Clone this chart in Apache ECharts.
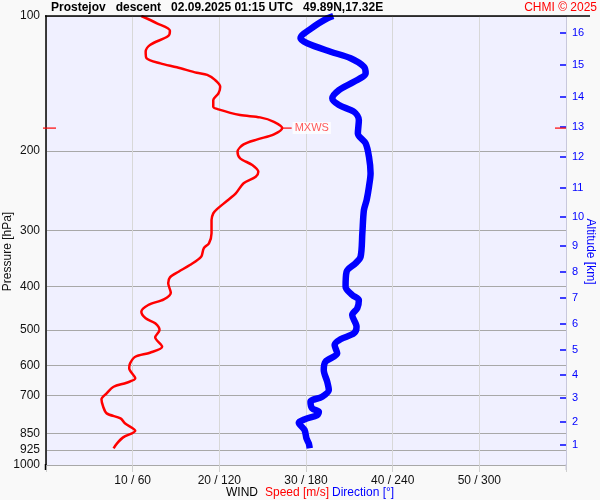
<!DOCTYPE html>
<html>
<head>
<meta charset="utf-8">
<script src="https://cdn.jsdelivr.net/npm/echarts@6/dist/echarts.min.js"></script>
<style>
html,body{margin:0;padding:0;background:#f9f9f9;}
#chart{width:600px;height:500px;}
</style>
</head>
<body>
<div id="chart"></div>
<script>
// ---- data ----
const pressureTicks = [100, 200, 300, 400, 500, 600, 700, 850, 925, 1000];
const altitudeKm = [1, 2, 3, 4, 5, 6, 7, 8, 9, 10, 11, 12, 13, 14, 15, 16];
const altitudePressure = [903, 802, 709, 630, 554, 485, 425, 372, 325, 280, 241.6, 206, 176.7, 151.5, 128.6, 109.1];
const speedTicks = [10, 20, 30, 40, 50];
const dirTicks = [60, 120, 180, 240, 300];

const speedPressure = [100,103.8,107.8,110.8,116.0,120.1,124.2,127.5,130.1,133.8,
  135.3,138.8,143.7,148.7,153.9,159.2,161.4,166.2,168.2,172.0,
  177.7,183.5,188.3,193.2,200.6,207.5,214.7,222.2,228.0,235.8,
  248.3,257.9,269.5,275.1,284.7,304.8,320.8,329.1,343.6,358.6,
  371.1,381.9,393.9,413.3,427.6,440.2,455.6,471.3,483.5,500.4,
  519.5,545.2,562.3,574.0,593.7,609.1,641.2,655.8,669.4,692.5,
  714.2,741.7,767.3,787.2,807.6,838.9,867.8,894.9,918.1];
const speed = [11.0,12.8,14.3,14.1,12.0,11.5,11.6,13.2,15.1,17.4,
  18.6,19.5,20.1,19.9,19.3,19.3,19.9,22.4,24.7,26.3,
  27.25,26.3,24.4,22.8,22.1,22.4,23.8,24.5,24.2,22.8,
  21.9,20.9,19.7,19.3,19.1,19.1,18.8,18.2,17.9,16.6,
  15.3,14.3,14.1,14.4,13.6,11.8,11.0,11.5,12.6,13.1,
  12.6,13.4,12.0,10.3,9.7,9.6,10.3,9.3,7.8,7.0,
  6.4,6.6,7.0,8.6,9.1,10.3,8.9,8.2,7.8];

const dirPressure = [100,101.2,105.6,112.1,115.0,120.1,124.2,129.7,134.2,140.1,
  146.2,152.5,157.9,163.4,170.5,182.6,192.2,205.8,224.0,240.0,
  256.9,270.5,304.8,343.6,355.4,371.1,400.9,418.2,429.1,447.7,
  463.4,492.0,509.0,524.9,540.5,564.0,588.9,614.4,652.5,680.7,
  704.5,722.8,747.8,761.0,774.0,790.0,805.1,835.9,872.2,894.9,
  918.1];
const direction = [198.9,194.7,185.4,176.2,180.8,197.0,210.9,220.1,221.3,213.2,
  202.8,198.2,202.8,213.2,216.6,215.9,221.3,223.6,224.7,223.6,
  222.0,220.1,219.0,217.8,214.3,208.1,207.4,212.0,216.6,215.5,
  212.0,215.0,213.2,203.9,199.8,201.6,193.5,192.3,194.7,195.8,
  191.2,183.1,184.3,188.9,187.8,179.7,175.0,179.0,180.3,181.9,
  182.6];

// ---- build ----
const speedData = speed.map((s, i) => [s, speedPressure[i]]);
const dirData = direction.map((d, i) => [d, dirPressure[i]]);
let mi = 0;
speed.forEach((s, i) => { if (s > speed[mi]) mi = i; });
const maxPoint = [speed[mi], speedPressure[mi]];

const FONT = '"Liberation Sans", Arial, sans-serif';
const chart = echarts.init(document.getElementById('chart'), null, {renderer: 'canvas'});
chart.setOption({
  backgroundColor: '#f9f9f9',
  animation: false,
  textStyle: {fontFamily: FONT},
  grid: {left: 46, right: 34, top: 16, bottom: 35, show: true, backgroundColor: '#f0f0ff', borderWidth: 0,
    containLabel: false, outerBoundsMode: 'none'},
  xAxis: [{
    type: 'value', min: 0, max: 60, interval: 10,
    axisLine: {show: false, onZero: false},
    axisTick: {show: true, length: 7, lineStyle: {color: '#cfcfcf'}},
    splitLine: {show: true, lineStyle: {color: '#d8d8d8', width: 1}},
    axisLabel: {
      margin: 10, color: '#111', fontSize: 12, fontFamily: FONT,
      formatter: v => { const i = speedTicks.indexOf(v); return i < 0 ? '' : speedTicks[i] + ' / ' + dirTicks[i]; }
    }
  }, {
    type: 'value', min: 0, max: 360, show: false
  }],
  yAxis: [{
    type: 'log', logBase: 10, min: 100, max: 1000, inverse: true, position: 'left',
    name: 'Pressure [hPa]', nameLocation: 'middle', nameGap: 32, nameMoveOverlap: false,
    nameTextStyle: {color: '#111', fontSize: 12, fontFamily: FONT, padding: [0, 22, 0, 0]},
    axisLine: {show: true, onZero: false, lineStyle: {color: '#000', width: 1.5}},
    axisTick: {show: false, customValues: pressureTicks},
    axisLabel: {customValues: pressureTicks, margin: 6, color: '#111', fontSize: 12, fontFamily: FONT,
      formatter: v => String(Math.round(v))},
    splitLine: {show: true, lineStyle: {color: '#a8a8a8', width: 1}}
  }, {
    type: 'log', logBase: 10, min: 100, max: 1000, inverse: true, position: 'right',
    name: 'Altitude [km]', nameLocation: 'middle', nameGap: 18, nameRotate: -90, nameMoveOverlap: false,
    nameTextStyle: {color: '#0000ff', fontSize: 12, fontFamily: FONT, padding: [0, 0, 0, 22]},
    axisLine: {show: true, onZero: false, lineStyle: {color: '#c8c8dc', width: 1}},
    axisTick: {show: true, inside: true, length: 6, customValues: altitudePressure, lineStyle: {color: '#0000ff', width: 1.5}},
    axisLabel: {customValues: altitudePressure, margin: 6, color: '#0000ff', fontSize: 11, fontFamily: FONT,
      formatter: v => { const i = altitudePressure.findIndex(p => Math.abs(p - v) < 0.5); return i < 0 ? '' : String(altitudeKm[i]); }},
    splitLine: {show: false}
  }],
  series: [{
    type: 'line', name: 'Speed', xAxisIndex: 0, yAxisIndex: 0, data: speedData,
    smooth: 0.3, showSymbol: false, clip: true,
    lineStyle: {color: '#ff0000', width: 2.5}, z: 3
  }, {
    type: 'line', name: 'Direction', xAxisIndex: 1, yAxisIndex: 0, data: dirData,
    smooth: 0.3, showSymbol: false, clip: true,
    lineStyle: {color: '#0000ff', width: 6.5}, z: 2
  }, {
    type: 'scatter', xAxisIndex: 0, yAxisIndex: 0, data: [maxPoint],
    symbol: 'rect', symbolSize: [9, 1.5], symbolOffset: [5, 0], z: 4,
    itemStyle: {color: '#ff0000'},
    label: {show: true, position: 'right', distance: 1, formatter: 'MXWS', color: '#ff3030',
      fontSize: 11, fontFamily: FONT, backgroundColor: '#ffffff', padding: [1, 2, 0, 2]}
  }, {
    type: 'scatter', xAxisIndex: 0, yAxisIndex: 0,
    data: [[0, maxPoint[1]]], symbol: 'rect', symbolSize: [13, 1.5], symbolOffset: [3.5, 0], z: 4,
    itemStyle: {color: '#ff0000'}, clip: false
  }, {
    type: 'scatter', xAxisIndex: 0, yAxisIndex: 0,
    data: [[60, maxPoint[1]]], symbol: 'rect', symbolSize: [11, 1.5], symbolOffset: [-5.5, 0], z: 4,
    itemStyle: {color: '#ff0000'}, clip: false
  }],
  graphic: [
    {type: 'line', shape: {x1: 45, y1: 16, x2: 590, y2: 16}, style: {stroke: '#000', lineWidth: 1.5}, z: 10},
    {type: 'line', shape: {x1: 45.5, y1: 464, x2: 45.5, y2: 470}, style: {stroke: '#000', lineWidth: 1.5}, z: 10},
    {type: 'line', shape: {x1: 566, y1: 464, x2: 566, y2: 470}, style: {stroke: '#c8c8dc', lineWidth: 1}, z: 10},
    {type: 'text', left: 51, top: 2, style: {text: 'Prostejov   descent   02.09.2025 01:15 UTC   49.89N,17.32E', fill: '#000', font: 'bold 12px ' + FONT}},
    {type: 'text', right: 3, top: 2, style: {text: 'CHMI © 2025', fill: '#ff0000', font: '12px ' + FONT}},
    {type: 'text', x: 226, y: 487, style: {text: 'WIND', fill: '#000', font: '12px ' + FONT}},
    {type: 'text', x: 265, y: 487, style: {text: 'Speed [m/s]', fill: '#ff0000', font: '12px ' + FONT}},
    {type: 'text', x: 332, y: 487, style: {text: 'Direction [°]', fill: '#0000ff', font: '12px ' + FONT}}
  ]
});
</script>
</body>
</html>
